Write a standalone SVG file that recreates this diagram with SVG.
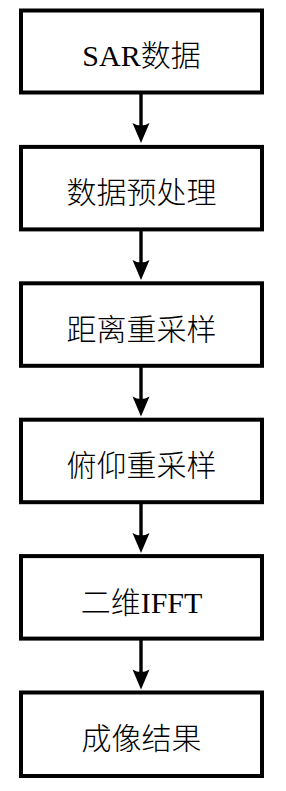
<svg xmlns="http://www.w3.org/2000/svg" width="286" height="791" viewBox="0 0 286 791">
<style>
.box{fill:#fff;stroke:#000;stroke-width:4}
.lbl{font-family:"Liberation Serif","Noto Sans CJK SC",serif;font-size:30px;font-weight:300;fill:#000;text-anchor:middle}
.edge{stroke:#000;stroke-width:3.4;fill:none}
.head{fill:#000}
</style>
<rect width="286" height="791" fill="#fff"/>
<g id="connectors">
<g><line class="edge" x1="141" y1="92.5" x2="141" y2="128"/><path class="head" d="M141,143 L132.5,123 Q141,128 149.5,123 Z"/></g>
<g><line class="edge" x1="141" y1="229.4" x2="141" y2="264"/><path class="head" d="M141,280 L132.5,260 Q141,265 149.5,260 Z"/></g>
<g><line class="edge" x1="141" y1="365.8" x2="141" y2="401"/><path class="head" d="M141,416.5 L132.5,396.5 Q141,401.5 149.5,396.5 Z"/></g>
<g><line class="edge" x1="141" y1="502.2" x2="141" y2="537"/><path class="head" d="M141,553 L132.5,533 Q141,538 149.5,533 Z"/></g>
<g><line class="edge" x1="141" y1="638.6" x2="141" y2="674"/><path class="head" d="M141,689.5 L132.5,669.5 Q141,674.5 149.5,669.5 Z"/></g>
</g>
<g id="n1"><rect class="box" x="21" y="10.5" width="241" height="82"/><text class="lbl" x="141.5" y="66">SAR数据</text></g>
<g id="n2"><rect class="box" x="21" y="146.9" width="241" height="82.5"/><text class="lbl" x="141.5" y="203">数据预处理</text></g>
<g id="n3"><rect class="box" x="21" y="283.3" width="241" height="82.5"/><text class="lbl" x="141.5" y="339.5">距离重采样</text></g>
<g id="n4"><rect class="box" x="21" y="419.7" width="241" height="82.5"/><text class="lbl" x="141.5" y="476">俯仰重采样</text></g>
<g id="n5"><rect class="box" x="21" y="556.1" width="241" height="82.5"/><text class="lbl" x="141.5" y="612.5">二维IFFT</text></g>
<g id="n6"><rect class="box" x="21" y="692.5" width="241" height="83.5"/><text class="lbl" x="141.5" y="749">成像结果</text></g>
</svg>
